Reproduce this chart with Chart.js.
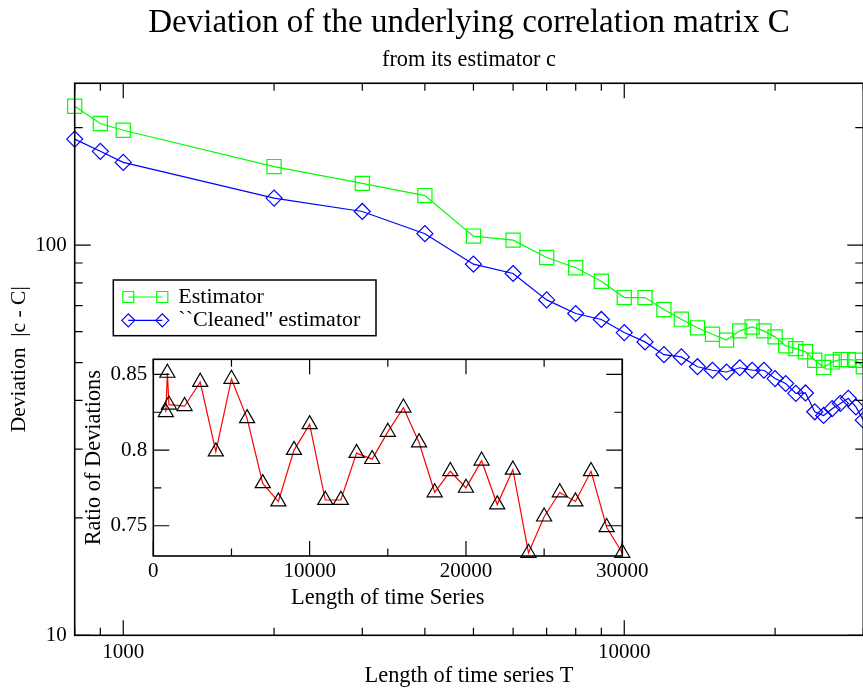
<!DOCTYPE html>
<html>
<head>
<meta charset="utf-8">
<script src="https://cdn.jsdelivr.net/npm/chart.js@4.4.0/dist/chart.umd.min.js"></script>
<style>
    html, body { margin: 0; padding: 0; background: #fff; overflow: hidden; }
    #wrap { position: relative; width: 863px; height: 692px; overflow: hidden; }
    #mainChart { position: absolute; left: 0; top: 0; }
    #insetChart { position: absolute; left: 70px; top: 340px; }
</style>
</head>
<body>
<div id="wrap">
    <canvas id="mainChart" width="868" height="692"></canvas>
    <canvas id="insetChart" width="600" height="275"></canvas>
</div>
<script>
// length of time series T
const lengthT = [800, 900, 1000, 2000, 3000, 4000, 5000, 6000, 7000, 8000, 9000, 10000,
    11000, 12000, 13000, 14000, 15000, 16000, 17000, 18000, 19000, 20000,
    21000, 22000, 23000, 24000, 25000, 26000, 27000, 28000, 29000, 30000];

// |c - C| for the plain estimator
const estimatorDev = [227, 205, 197, 159, 144, 134, 105.5, 103, 93, 87.5, 80.8, 73.4,
    73.4, 68.4, 64.6, 61.4, 59.1, 57.1, 60.3, 61.7, 60.3, 58.2,
    55.2, 54.3, 53.3, 50.7, 48.6, 50.2, 50.9, 50.9, 50.7, 48.8];

// |c - C| for the "cleaned" estimator
const cleanedDev = [187, 174, 163, 132, 122, 107, 89.4, 84.6, 72.4, 66.8, 64.5, 59.7,
    56.5, 52.4, 51.7, 48.8, 47.8, 47.3, 48.5, 47.8, 47.8, 45.5,
    44.2, 41.7, 41.8, 37.4, 36.6, 38.1, 39.3, 40.5, 38.5, 35.6];

// cleaned / plain (inset)
const ratioDev = [0.825, 0.851, 0.830, 0.829, 0.845, 0.799, 0.847, 0.821, 0.778, 0.766, 0.800, 0.817,
    0.767, 0.767, 0.798, 0.794, 0.812, 0.828, 0.805, 0.772, 0.786, 0.775,
    0.793, 0.764, 0.787, 0.732, 0.756, 0.772, 0.766, 0.786, 0.749, 0.732];

const mainXLabels = [1000, 10000];
const mainYLabels = [10, 100];
const insetXLabels = [0, 10000, 20000, 30000];
const insetYLabels = [0.75, 0.8, 0.85];

Chart.defaults.font.family = '"Liberation Serif", "Times New Roman", serif';
Chart.defaults.color = '#000';

function logTicks(min, max) {
    const out = [];
    for (let e = Math.floor(Math.log10(min)); e <= Math.ceil(Math.log10(max)); e++) {
        for (let m = 1; m < 10; m++) {
            const v = m * Math.pow(10, e);
            if (v >= min && v <= max) out.push({ value: v, major: m === 1 });
        }
    }
    return out;
}

function linTicks(min, max, step, every) {
    const out = [];
    for (let k = Math.ceil(min / step - 1e-9); k * step <= max + 1e-9; k++) {
        out.push({ value: k * step, major: k % every === 0 });
    }
    return out;
}

// box round the plot with inward ticks on all four sides
const frameTicks = {
    id: 'frameTicks',
    beforeDraw(chart, args, opts) {
        if (!opts.fill) return;
        const a = chart.chartArea;
        chart.ctx.save();
        chart.ctx.fillStyle = '#fff';
        chart.ctx.fillRect(a.left, a.top, a.right - a.left, a.bottom - a.top);
        chart.ctx.restore();
    },
    afterDatasetsDraw(chart, args, opts) {
        const ctx = chart.ctx;
        const a = chart.chartArea;
        const x = chart.scales.x;
        const y = chart.scales.y;
        ctx.save();
        ctx.strokeStyle = '#000';
        ctx.lineWidth = 1.2;
        ctx.beginPath();
        opts.xTicks.forEach(function(t) {
            const px = x.getPixelForValue(t.value);
            const len = t.major ? 15 : 7.5;
            ctx.moveTo(px, a.bottom);
            ctx.lineTo(px, a.bottom - len);
            ctx.moveTo(px, a.top);
            ctx.lineTo(px, a.top + len);
        });
        opts.yTicks.forEach(function(t) {
            const py = y.getPixelForValue(t.value);
            const len = t.major ? 16 : 8;
            ctx.moveTo(a.left, py);
            ctx.lineTo(a.left + len, py);
            ctx.moveTo(a.right, py);
            ctx.lineTo(a.right - len, py);
        });
        ctx.stroke();
        ctx.lineWidth = 1.6;
        ctx.strokeRect(a.left, a.top, a.right - a.left, a.bottom - a.top);
        ctx.restore();
    }
};

// legend box with a marker at each end of the line sample
const boxLegend = {
    id: 'boxLegend',
    afterDraw(chart, args, opts) {
        const ctx = chart.ctx;
        ctx.save();
        ctx.fillStyle = '#fff';
        ctx.fillRect(opts.left, opts.top, opts.width, opts.height);
        ctx.strokeStyle = '#000';
        ctx.lineWidth = 1.5;
        ctx.strokeRect(opts.left, opts.top, opts.width, opts.height);
        ctx.font = '22px "Liberation Serif", serif';
        ctx.textBaseline = 'middle';
        chart.data.datasets.forEach(function(ds, i) {
            const yy = opts.top + 17 + i * 23.3;
            const x0 = opts.left + 15;
            const x1 = opts.left + 49;
            ctx.strokeStyle = ds.borderColor;
            ctx.lineWidth = ds.borderWidth;
            ctx.beginPath();
            ctx.moveTo(x0, yy);
            ctx.lineTo(x1, yy);
            ctx.stroke();
            ctx.fillStyle = 'rgba(0,0,0,0)';
            [x0, x1].forEach(function(px) {
                Chart.helpers.drawPoint(ctx, {
                    pointStyle: ds.pointStyle,
                    radius: opts.radius[i],
                    borderWidth: ds.pointBorderWidth
                }, px, yy);
            });
            ctx.fillStyle = '#000';
            ctx.fillText(ds.label, opts.left + 65, yy);
        });
        ctx.restore();
    }
};

function points(ys) {
    return lengthT.map(function(t, i) { return { x: t, y: ys[i] }; });
}

function noSidePadding(s) {
    s.paddingLeft = 0;
    s.paddingRight = 0;
}

new Chart(document.getElementById('mainChart'), {
    type: 'line',
    data: {
        datasets: [{
            label: 'Estimator',
            data: points(estimatorDev),
            borderColor: '#00ff00',
            borderWidth: 1.2,
            pointStyle: 'rect',
            pointRadius: 10,
            pointBorderColor: '#00ff00',
            pointBackgroundColor: 'rgba(0,0,0,0)',
            pointBorderWidth: 1.2,
            clip: false
        }, {
            label: '``Cleaned\'\' estimator',
            data: points(cleanedDev),
            borderColor: '#0000ff',
            borderWidth: 1.2,
            pointStyle: 'rectRot',
            pointRadius: 8,
            pointBorderColor: '#0000ff',
            pointBackgroundColor: 'rgba(0,0,0,0)',
            pointBorderWidth: 1.2,
            clip: false
        }]
    },
    options: {
        responsive: false,
        animation: false,
        layout: { autoPadding: false, padding: { top: 0, right: 4.7, bottom: 0, left: 0 } },
        plugins: {
            legend: { display: false },
            tooltip: { enabled: false },
            title: {
                display: true,
                fullSize: false,
                text: 'Deviation of the underlying correlation matrix C',
                font: { size: 33, weight: 'normal' },
                padding: { top: 4, bottom: 0 }
            },
            subtitle: {
                display: true,
                fullSize: false,
                text: 'from its estimator c',
                font: { size: 22.3 },
                padding: { top: 3, bottom: 9.9 }
            },
            frameTicks: {
                xTicks: logTicks(800, 30000),
                yTicks: logTicks(10, 260)
            },
            boxLegend: {
                left: 113.3, top: 280, width: 262.7, height: 55.7,
                radius: [7.8, 6.5]
            }
        },
        scales: {
            x: {
                type: 'logarithmic',
                min: 800,
                max: 30000,
                grid: { display: false, drawTicks: false },
                border: { display: false },
                afterBuildTicks: function(s) { s.ticks = mainXLabels.map(function(v) { return { value: v }; }); },
                afterFit: function(s) { s.height = 56.7; noSidePadding(s); },
                ticks: {
                    autoSkip: false,
                    maxRotation: 0,
                    padding: 5,
                    font: { size: 21 },
                    callback: function(v) { return String(v); }
                },
                title: {
                    display: true,
                    text: 'Length of time series T',
                    font: { size: 22.4 },
                    padding: { top: 0, bottom: 2 }
                }
            },
            y: {
                type: 'logarithmic',
                min: 10,
                max: 260,
                grid: { display: false, drawTicks: false },
                border: { display: false },
                afterBuildTicks: function(s) { s.ticks = mainYLabels.map(function(v) { return { value: v }; }); },
                afterFit: function(s) { s.width = 74.7; },
                ticks: {
                    padding: 8,
                    font: { size: 21 },
                    callback: function(v) { return String(v); }
                },
                title: {
                    display: true,
                    text: 'Deviation  |c - C|',
                    font: { size: 21.5 },
                    padding: { top: 6.8, bottom: 0 }
                }
            }
        }
    },
    plugins: [frameTicks, boxLegend]
});

new Chart(document.getElementById('insetChart'), {
    type: 'line',
    data: {
        datasets: [{
            label: 'Ratio of Deviations',
            data: points(ratioDev),
            borderColor: '#ff0000',
            borderWidth: 1.2,
            pointStyle: 'triangle',
            pointRadius: 8.7,
            pointBorderColor: '#000',
            pointBackgroundColor: 'rgba(0,0,0,0)',
            pointBorderWidth: 1.2,
            clip: false
        }]
    },
    options: {
        responsive: false,
        animation: false,
        layout: { autoPadding: false, padding: { top: 19.3, right: 47.7, bottom: 0, left: 0 } },
        plugins: {
            legend: { display: false },
            tooltip: { enabled: false },
            frameTicks: {
                fill: true,
                xTicks: linTicks(0, 30000, 5000, 2),
                yTicks: linTicks(0.73, 0.86, 0.025, 2)
            }
        },
        scales: {
            x: {
                type: 'linear',
                min: 0,
                max: 30000,
                grid: { display: false, drawTicks: false },
                border: { display: false },
                afterBuildTicks: function(s) { s.ticks = insetXLabels.map(function(v) { return { value: v }; }); },
                afterFit: function(s) { s.height = 59; noSidePadding(s); },
                ticks: {
                    autoSkip: false,
                    maxRotation: 0,
                    padding: 3,
                    font: { size: 21 },
                    callback: function(v) { return String(v); }
                },
                title: {
                    display: true,
                    text: 'Length of time Series',
                    font: { size: 22.4 },
                    padding: { top: 0, bottom: 3.6 }
                }
            },
            y: {
                type: 'linear',
                min: 0.73,
                max: 0.86,
                grid: { display: false, drawTicks: false },
                border: { display: false },
                afterBuildTicks: function(s) { s.ticks = insetYLabels.map(function(v) { return { value: v }; }); },
                afterFit: function(s) { s.width = 83.3; },
                ticks: {
                    padding: 6,
                    font: { size: 21 },
                    callback: function(v) { return String(v); }
                },
                title: {
                    display: true,
                    text: 'Ratio of Deviations',
                    font: { size: 22.4 },
                    padding: { top: 10.6, bottom: 0 }
                }
            }
        }
    },
    plugins: [frameTicks]
});
</script>
</body>
</html>
